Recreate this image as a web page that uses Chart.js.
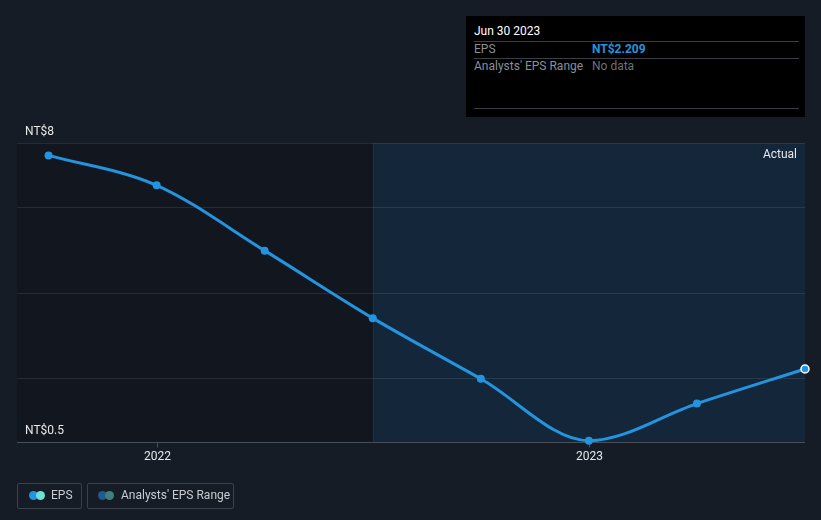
<!DOCTYPE html>
<html>
<head>
<meta charset="utf-8">
<script src="https://cdn.jsdelivr.net/npm/chart.js@4/dist/chart.umd.min.js"></script>
<style>
  html, body { margin:0; padding:0; background:#161c26; width:821px; height:520px; overflow:hidden; font-family: Roboto, "Noto Sans", sans-serif; }
  #wrap { position:absolute; left:0; top:0; width:821px; height:520px; }
  canvas { display:block; }
  #tip { position:absolute; left:466px; top:16px; width:339px; height:101px; background:#000; box-sizing:border-box; padding:0 8px; }
  #tip .date { color:#fff; font-size:12px; position:absolute; left:8px; top:8px; }
  #tip .row { position:absolute; left:8px; right:6px; height:16px; border-top:1px solid #3a3e45; font-size:12px; line-height:14px; }
  #tip .k { color:#8a8f98; position:absolute; left:0; }
  #tip .v { position:absolute; left:118px; }
  .legend { position:absolute; top:483px; height:26px; border:1px solid #3b414b; border-radius:2px; box-sizing:border-box; color:#c8ccd2; font-size:12px; line-height:22px; }
  .dots { position:absolute; top:7px; width:16px; height:9px; }
  .dots span { position:absolute; top:0; width:9px; height:9px; border-radius:50%; }
</style>
</head>
<body>
<div id="wrap">
  <canvas id="c" width="821" height="520"></canvas>
  <div id="tip">
    <div class="date">Jun 30 2023</div>
    <div class="row" style="top:25px"><span class="k">EPS</span><span class="v" style="color:#2394df;font-weight:bold">NT$2.209</span></div>
    <div class="row" style="top:42px"><span class="k">Analysts' EPS Range</span><span class="v" style="color:#6b7079">No data</span></div>
    <div class="row" style="top:92px;height:0"></div>
  </div>
  <div class="legend" style="left:17px;width:65px;">
    <div class="dots" style="left:11px"><span style="left:0;background:#2394df"></span><span style="left:7px;background:#6ee0d6"></span></div>
    <span style="position:absolute;left:33px">EPS</span>
  </div>
  <div class="legend" style="left:87px;width:147px;">
    <div class="dots" style="left:10px"><span style="left:0;background:#1f5a8a"></span><span style="left:7px;background:#3f7f7c"></span></div>
    <span style="position:absolute;left:33px">Analysts' EPS Range</span>
  </div>
</div>
<script>
// Data (quarter-end dates as fractional years)
const quarters = [2021.75, 2022.0, 2022.25, 2022.5, 2022.75, 2023.0, 2023.25, 2023.5];
const epsValues = [7.21, 6.51, 4.98, 3.40, 1.98, 0.53, 1.40, 2.209];
const xTickValues = [2022.0, 2023.0];
const xTickLabels = ['2022', '2023'];
const yLabelValues = [7.5, 0.5];
const yLabelTexts = ['NT$8', 'NT$0.5'];
const gridValues = [2, 4, 6];
const forecastStart = 2022.5;

const X_MIN = 2021.677, X_MAX = 2023.5, Y_MIN = 0.5, Y_MAX = 7.5;

const bgPlugin = {
  id: 'bg',
  beforeDraw(chart) {
    const {ctx, chartArea: a, scales: {x, y}} = chart;
    ctx.save();
    const sx = x.getPixelForValue(forecastStart);
    ctx.fillStyle = '#12161e';
    ctx.fillRect(a.left, a.top, sx - a.left, a.bottom - a.top);
    ctx.fillStyle = '#13263a';
    ctx.fillRect(sx, a.top, a.right - sx, a.bottom - a.top);
    // divider
    ctx.strokeStyle = 'rgba(30,55,80,0.5)';
    ctx.lineWidth = 1;
    ctx.beginPath(); ctx.moveTo(Math.round(sx)+0.5, a.top); ctx.lineTo(Math.round(sx)+0.5, a.bottom); ctx.stroke();
    // grid lines
    ctx.strokeStyle = 'rgba(255,255,255,0.09)';
    for (const g of [...gridValues, Y_MAX]) {
      const py = Math.round(y.getPixelForValue(g)) + 0.5;
      ctx.beginPath(); ctx.moveTo(a.left, py); ctx.lineTo(a.right, py); ctx.stroke();
    }
    // axis line
    ctx.strokeStyle = '#4a4f57';
    const by = Math.round(a.bottom) + 0.5;
    ctx.beginPath(); ctx.moveTo(a.left, by); ctx.lineTo(a.right, by); ctx.stroke();
    // x ticks
    ctx.fillStyle = '#e6e8eb';
    ctx.font = '12px "Liberation Sans Narrow", Roboto, sans-serif';
    ctx.textAlign = 'center'; ctx.textBaseline = 'middle';
    xTickValues.forEach((v, i) => {
      const px = Math.round(x.getPixelForValue(v)) + 0.5;
      ctx.strokeStyle = '#4a4f57';
      ctx.beginPath(); ctx.moveTo(px, by); ctx.lineTo(px, by + 5); ctx.stroke();
      ctx.fillText(xTickLabels[i], px, by + 14);
    });
    // y labels
    ctx.textAlign = 'left';
    yLabelValues.forEach((v, i) => {
      const py = y.getPixelForValue(v);
      ctx.fillText(yLabelTexts[i], 25, py - 11);
    });
    // Actual label
    ctx.font = '12px Roboto, sans-serif';
    ctx.textAlign = 'right';
    ctx.fillText('Actual', a.right - 8, a.top + 12);
    ctx.restore();
  }
};

new Chart(document.getElementById('c'), {
  type: 'line',
  data: {
    datasets: [{
      label: 'EPS',
      data: quarters.map((q, i) => ({x: q, y: epsValues[i]})),
      borderColor: '#2394df',
      backgroundColor: '#2394df',
      borderWidth: 3,
      cubicInterpolationMode: 'monotone',
      pointRadius: 4,
      pointBorderWidth: epsValues.map((v, i) => i === epsValues.length - 1 ? 1.5 : 0),
      pointBorderColor: '#ffffff',
      pointBackgroundColor: '#2394df',
      clip: false
    }]
  },
  options: {
    responsive: false,
    animation: false,
    layout: { padding: { left: 17, right: 16, top: 143, bottom: 78 } },
    plugins: { legend: { display: false }, tooltip: { enabled: false } },
    scales: {
      x: { type: 'linear', min: X_MIN, max: X_MAX, display: false },
      y: { type: 'linear', min: Y_MIN, max: Y_MAX, display: false }
    }
  },
  plugins: [bgPlugin]
});
</script>
</body>
</html>
